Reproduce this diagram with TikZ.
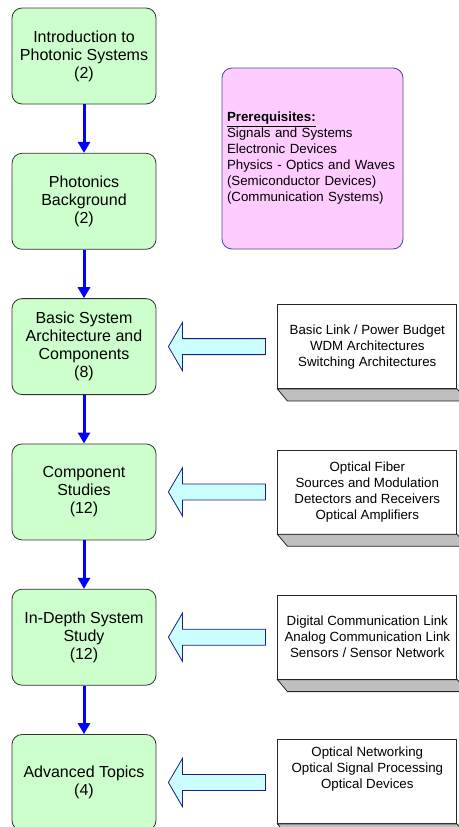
\documentclass[tikz,border=0pt]{standalone}
\usepackage{fontspec}
\setmainfont{Liberation Sans}
\usetikzlibrary{positioning,arrows.meta}

\definecolor{mint}{HTML}{CCFFCC}
\definecolor{lilac}{HTML}{FFCCFF}
\definecolor{ice}{HTML}{CCFFFF}
\definecolor{navy}{HTML}{1A1A8C}

\tikzset{
  unit/.style={draw=black!80, fill=mint, rounded corners=10pt, line width=0.8pt,
    minimum width=144pt, minimum height=96pt, align=center, inner sep=2pt,
    font=\fontsize{16}{18}\selectfont},
  topics/.style={draw=black!85, fill=white, line width=0.8pt,
    minimum width=179pt, minimum height=84pt, align=center, inner sep=2pt,
    font=\fontsize{13.3}{16}\selectfont},
  prereq/.style={draw=navy!80, fill=lilac, rounded corners=10pt, line width=0.8pt,
    minimum width=181pt, minimum height=181pt, text width=171pt, align=left,
    inner sep=5pt, font=\fontsize{13.3}{16}\selectfont},
  flow/.style={draw=blue, line width=3pt, -{Triangle[width=12pt,length=11pt]}},
  feed/.style={draw=navy, fill=ice, line width=0.8pt, line join=miter},
  bevel/.style={draw=black!85, fill=black!25, line width=0.8pt}
}

\begin{document}
\begin{tikzpicture}[x=1pt,y=-1pt]
  \useasboundingbox (0,0) rectangle (458,827);

  % course units
  \node[unit] (intro) at (84,56) {Introduction to\\Photonic Systems\\(2)};
  \node[unit, below=48.5pt of intro] (backgr) {Photonics\\Background\\(2)};
  \node[unit, below=48.5pt of backgr] (basics) {Basic System\\Architecture and\\Components\\(8)};
  \node[unit, below=48.5pt of basics] (comps) {Component\\Studies\\(12)};
  \node[unit, below=48.5pt of comps] (depth) {In-Depth System\\Study\\(12)};
  \node[unit, below=48.5pt of depth] (adv) {Advanced Topics\\(4)};

  \node[prereq] (pre) at (312.5,158.5) {\textbf{\underline{Prerequisites:}}\\Signals and Systems\\Electronic Devices\\Physics - Optics and Waves\\(Semiconductor Devices)\\(Communication Systems)};

  % topic lists
  \node[topics, right=121pt of basics] (tbasics) {Basic Link / Power Budget\\WDM Architectures\\Switching Architectures};
  \node[topics, right=121pt of comps] (tcomps) {Optical Fiber\\Sources and Modulation\\Detectors and Receivers\\Optical Amplifiers};
  \node[topics, right=121pt of depth] (tdepth) {Digital Communication Link\\Analog Communication Link\\Sensors / Sensor Network};
  \node[topics, right=121pt of adv, yshift=1pt] (tadv) {Optical Networking\\Optical Signal Processing\\Optical Devices\\[12pt]};

  \foreach \t in {tbasics,tcomps,tdepth,tadv}
    \draw[bevel] (\t.south west) -- ++(10,12) -- ([shift={(10,12)}]\t.south east) -- (\t.south east) -- cycle;

  \foreach \a/\b in {intro/backgr,backgr/basics,basics/comps,comps/depth,depth/adv}
    \draw[flow] (\a) -- (\b);

  \foreach \u/\t in {basics/tbasics,comps/tcomps,depth/tdepth,adv/tadv}
    \draw[feed] ([xshift=12pt]\u.east) -- ++(14,-24) -- ++(0,16)
      -- ([xshift=-12pt,yshift=8pt]\t.west |- \u.east) -- ++(0,16) -- ++(-83,0)
      -- ++(0,16) -- cycle;

\end{tikzpicture}
\end{document}
